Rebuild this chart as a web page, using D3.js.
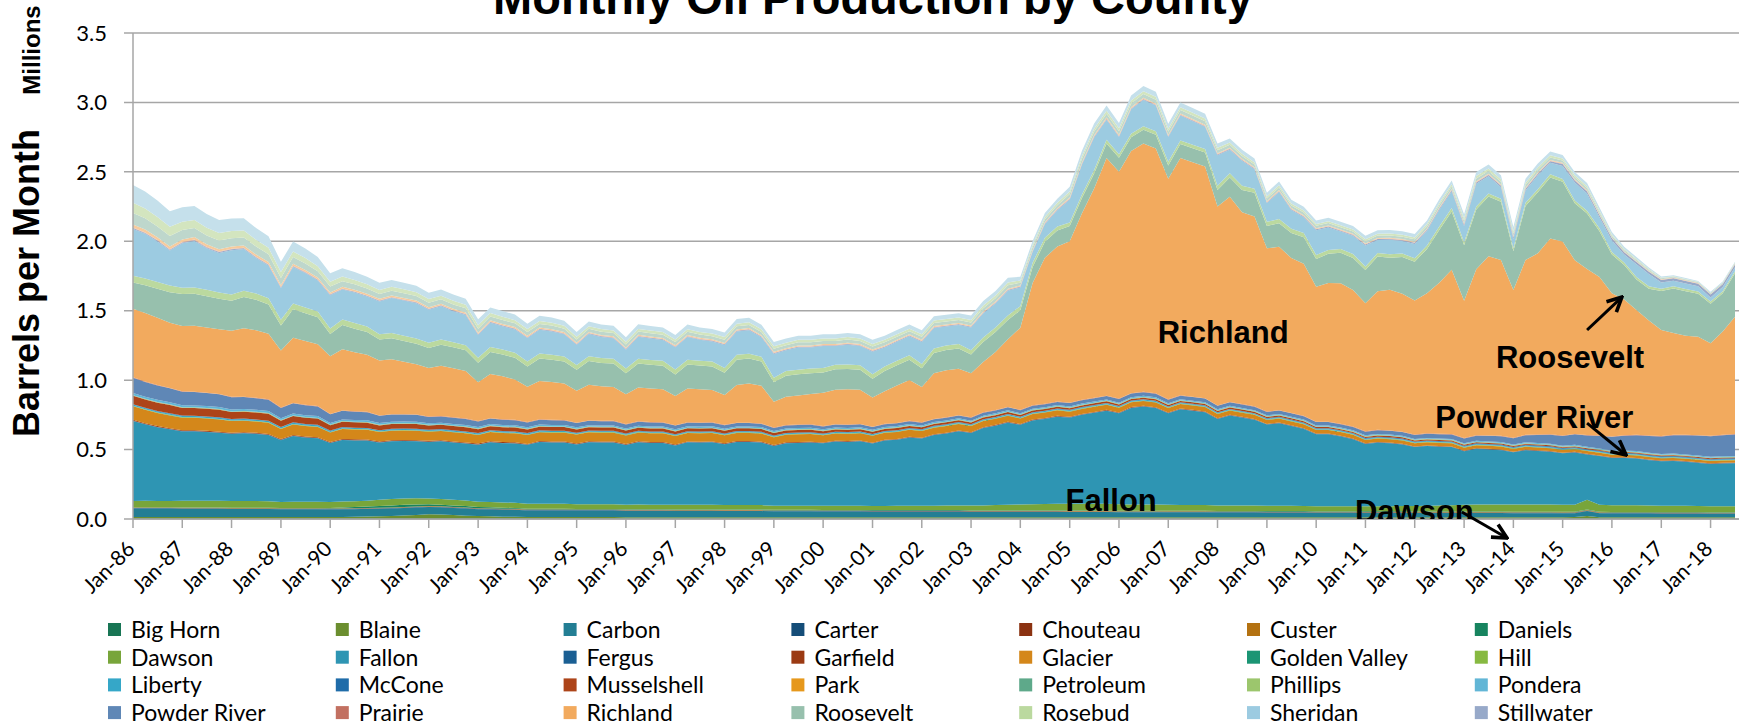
<!DOCTYPE html>
<html>
<head>
<meta charset="utf-8">
<script src="https://cdn.jsdelivr.net/npm/d3@7"></script>
<style>
  body { margin: 0; background: #fff; }
  svg { display: block; }
</style>
</head>
<body>
<svg id="chart" width="1739" height="727"></svg>
<script>
// quarterly points, Jan-86 .. Jul-18 (thousand barrels per month)
const quarters = d3.timeMonth.every(3).range(new Date(1986, 0, 1), new Date(2018, 7, 1));

const bigHorn = [
  4,4,4,4,4,4,4,4,4,4,4,4,4,4,4,4,
  4,4,4,4,4,4,4,4,4,4,4,4,4,4,4,4,
  4,4,4,4,4,4,4,4,3,3,3,3,3,3,3,3,
  3,3,3,3,3,3,3,3,3,3,3,3,3,3,3,3,
  3,3,3,3,3,3,3,3,3,3,3,3,3,3,3,3,
  3,3,3,3,3,3,3,3,3,3,3,3,3,3,3,3,
  3,3,3,3,3,3,3,3,3,3,3,3,3,3,3,3,
  3,3,3,3,3,3,3,3,3,3,3,3,3,3,3,3,
  3,3,3];
const blaine = [
  10,10,10,10,10,10,10,10,10,10,10,10,10,10,10,10,
  10,11,12,14,16,18,21,25,30,28,24,20,17,15,13,12,
  10,10,10,10,10,10,10,10,10,10,10,10,10,10,10,10,
  10,10,10,10,10,10,10,10,10,10,10,10,10,10,10,10,
  10,10,10,10,10,10,10,10,10,10,10,10,10,10,10,10,
  10,10,10,10,10,10,10,10,10,10,10,10,10,10,10,10,
  10,10,10,10,10,10,10,10,10,10,10,10,10,10,10,10,
  10,10,10,10,10,11,18,10,10,10,10,10,10,10,10,10,
  10,10,10];
const carbon = [
  62,62,62,62,60,60,60,60,58,58,58,58,56,56,56,56,
  55,55,55,55,54,54,54,54,52,52,52,52,50,50,50,50,
  48,48,48,48,47,47,47,47,46,46,46,46,45,45,45,45,
  44,44,44,44,42,42,42,42,41,41,41,41,40,40,40,40,
  40,40,40,40,38,38,38,38,38,38,38,38,37,37,37,37,
  36,36,36,36,35,35,35,35,34,34,34,34,33,33,33,33,
  32,32,32,32,31,31,31,31,30,30,30,30,30,30,30,30,
  29,29,29,29,28,28,36,28,27,27,27,27,26,26,26,26,
  25,25,25];
const carter = [
  3,3,3,3,3,3,3,3,3,3,3,3,3,3,3,3,
  3,3,3,3,3,3,3,3,3,3,3,3,3,3,3,3,
  3,3,3,3,3,3,3,3,3,3,3,3,3,3,3,3,
  3,3,3,3,3,3,3,3,3,3,3,3,3,3,3,3,
  3,3,3,3,3,3,3,3,3,3,3,3,3,3,3,3,
  3,3,3,3,3,3,3,3,3,3,3,3,3,3,3,3,
  3,3,3,3,3,3,3,3,3,3,3,3,3,3,3,3,
  3,3,3,3,3,3,3,3,3,3,3,3,3,3,3,3,
  3,3,3];
const chouteau = [
  1,1,1,1,1,1,1,1,1,1,1,1,1,1,1,1,
  1,1,1,1,1,1,1,1,1,1,1,1,1,1,1,1,
  1,1,1,1,1,1,1,1,1,1,1,1,1,1,1,1,
  1,1,1,1,1,1,1,1,1,1,1,1,1,1,1,1,
  1,1,1,1,1,1,1,1,1,1,1,1,1,1,1,1,
  1,1,1,1,1,1,1,1,1,1,1,1,1,1,1,1,
  1,1,1,1,1,1,1,1,1,1,1,1,1,1,1,1,
  1,1,1,1,1,1,1,1,1,1,1,1,1,1,1,1,
  1,1,1];
const custer = [
  3,3,3,3,3,3,3,3,3,3,3,3,3,3,3,3,
  3,3,3,3,3,3,3,3,3,3,3,3,3,3,3,3,
  3,3,3,3,3,3,3,3,3,3,3,3,3,3,3,3,
  3,3,3,3,3,3,3,3,3,3,3,3,3,3,3,3,
  3,3,3,3,3,3,3,3,3,3,3,3,3,3,3,3,
  3,3,3,3,3,3,3,3,3,3,3,3,3,3,3,3,
  3,3,3,3,3,3,3,3,3,3,3,3,3,3,3,3,
  3,3,3,3,3,3,3,3,3,3,3,3,3,3,3,3,
  3,3,3];
const daniels = [
  2,2,2,2,2,2,2,2,2,2,2,2,2,2,2,2,
  4,6,8,10,13,15,16,15,14,12,11,10,9,8,7,6,
  4,4,4,4,4,4,4,4,4,4,4,4,4,4,4,4,
  4,4,4,4,4,4,4,4,4,4,4,4,4,4,4,4,
  4,4,4,4,4,4,4,4,4,4,4,4,4,4,4,4,
  4,4,4,4,4,4,4,4,4,4,4,4,4,4,4,4,
  4,4,4,4,4,4,4,4,4,4,4,4,4,4,4,4,
  4,4,4,4,4,4,4,4,4,4,4,4,4,4,4,4,
  4,4,4];
const dawson = [
  45,46,45,45,48,48,49,48,48,49,48,47,44,46,45,45,
  42,43,42,42,45,46,45,44,40,41,40,40,38,39,38,38,
  36,37,36,36,35,35,35,35,33,34,33,33,33,33,33,33,
  32,32,32,32,30,30,30,30,30,30,30,30,30,30,31,31,
  32,32,33,34,35,36,38,40,43,45,46,47,48,48,48,48,
  46,45,45,44,43,42,42,41,40,40,40,39,38,38,38,37,
  36,36,36,36,36,36,37,38,40,42,43,45,48,50,51,51,
  52,52,52,52,50,50,70,50,48,48,48,47,46,45,45,44,
  43,42,42];
const fallon = [
  576,551,531,516,500,500,495,490,484,487,484,477,445,472,462,457,
  425,443,438,433,411,416,414,411,408,416,413,410,410,429,427,427,
  425,444,442,442,430,446,444,444,430,449,445,445,428,450,448,450,
  438,455,455,450,430,449,452,454,450,463,460,465,450,471,476,491,
  484,509,519,534,522,557,572,592,573,603,613,628,621,641,656,671,
  655,695,705,695,659,689,679,669,622,647,632,617,585,595,575,555,
  518,518,503,483,449,459,454,444,424,429,424,419,386,401,396,391,
  375,390,385,380,371,376,327,351,341,341,336,326,320,323,317,310,
  304,309,311];
const fergus = [
  2,2,2,2,2,2,2,2,2,2,2,2,2,2,2,2,
  2,2,2,2,2,2,2,2,2,2,2,2,2,2,2,2,
  2,2,2,2,2,2,2,2,2,2,2,2,2,2,2,2,
  2,2,2,2,2,2,2,2,2,2,2,2,2,2,2,2,
  2,2,2,2,2,2,2,2,2,2,2,2,2,2,2,2,
  2,2,2,2,2,2,2,2,2,2,2,2,2,2,2,2,
  2,2,2,2,2,2,2,2,2,2,2,2,2,2,2,2,
  2,2,2,2,2,2,2,2,2,2,2,2,2,2,2,2,
  2,2,2];
const garfield = [
  6,6,6,6,6,6,6,6,6,6,6,6,6,6,6,6,
  6,6,6,6,6,6,6,6,6,6,6,6,6,6,6,6,
  5,5,5,5,5,5,5,5,5,5,5,5,5,5,5,5,
  5,5,5,5,5,5,5,5,4,4,4,4,4,4,4,4,
  4,4,4,4,4,4,4,4,4,4,4,4,4,4,4,4,
  4,4,4,4,4,4,4,4,4,4,4,4,3,3,3,3,
  3,3,3,3,3,3,3,3,3,3,3,3,3,3,3,3,
  3,3,3,3,3,3,3,3,3,3,3,3,3,3,3,3,
  3,3,3];
const glacier = [
  98,96,94,92,91,90,89,88,84,83,81,80,72,76,75,74,
  68,71,70,69,68,68,68,68,66,66,66,66,62,66,65,65,
  64,64,64,64,64,64,64,64,62,62,62,62,60,60,60,60,
  58,58,58,58,55,55,55,55,52,52,52,52,50,50,50,50,
  47,47,47,47,44,44,44,44,40,40,40,40,37,37,37,37,
  34,34,34,34,32,32,32,32,30,30,30,30,28,28,28,28,
  26,26,26,26,24,24,24,24,22,22,22,22,21,21,21,21,
  20,20,20,20,19,19,19,19,18,18,18,18,17,17,17,17,
  16,16,16];
const goldenValley = [
  1,1,1,1,1,1,1,1,1,1,1,1,1,1,1,1,
  1,1,1,1,1,1,1,1,1,1,1,1,1,1,1,1,
  1,1,1,1,1,1,1,1,1,1,1,1,1,1,1,1,
  1,1,1,1,1,1,1,1,1,1,1,1,1,1,1,1,
  1,1,1,1,1,1,1,1,1,1,1,1,1,1,1,1,
  1,1,1,1,1,1,1,1,1,1,1,1,1,1,1,1,
  1,1,1,1,1,1,1,1,1,1,1,1,1,1,1,1,
  1,1,1,1,1,1,1,1,1,1,1,1,1,1,1,1,
  1,1,1];
const hill = [
  3,3,3,3,3,3,3,3,3,3,3,3,3,3,3,3,
  3,3,3,3,3,3,3,3,3,3,3,3,3,3,3,3,
  3,3,3,3,3,3,3,3,3,3,3,3,3,3,3,3,
  3,3,3,3,3,3,3,3,3,3,3,3,3,3,3,3,
  3,3,3,3,3,3,3,3,3,3,3,3,3,3,3,3,
  3,3,3,3,3,3,3,3,3,3,3,3,3,3,3,3,
  3,3,3,3,3,3,3,3,3,3,3,3,3,3,3,3,
  3,3,3,3,3,3,3,3,3,3,3,3,3,3,3,3,
  3,3,3];
const liberty = [
  8,8,8,8,8,8,8,8,8,8,8,8,8,8,8,8,
  7,7,7,7,7,7,7,7,7,7,7,7,7,7,7,7,
  7,7,7,7,6,6,6,6,6,6,6,6,6,6,6,6,
  6,6,6,6,6,6,6,6,6,6,6,6,6,6,6,6,
  6,6,6,6,6,6,6,6,6,6,6,6,6,6,6,6,
  6,6,6,6,5,5,5,5,5,5,5,5,5,5,5,5,
  5,5,5,5,5,5,5,5,5,5,5,5,5,5,5,5,
  5,5,5,5,5,5,5,5,5,5,5,5,5,5,5,5,
  5,5,5];
const mcCone = [
  3,3,3,3,3,3,3,3,3,3,3,3,3,3,3,3,
  3,3,3,3,3,3,3,3,3,3,3,3,3,3,3,3,
  3,3,3,3,3,3,3,3,3,3,3,3,3,3,3,3,
  3,3,3,3,3,3,3,3,3,3,3,3,3,3,3,3,
  3,3,3,3,3,3,3,3,3,3,3,3,3,3,3,3,
  3,3,3,3,3,3,3,3,3,3,3,3,4,4,4,4,
  4,4,4,4,5,5,5,5,5,5,5,5,5,5,5,5,
  5,5,5,5,5,5,5,5,5,5,5,5,5,5,5,5,
  5,5,5];
const musselshell = [
  60,60,60,60,55,55,55,55,50,50,50,50,45,45,45,45,
  38,38,38,38,34,34,34,34,30,30,30,30,28,28,28,28,
  26,26,26,26,24,24,24,24,22,22,22,22,21,21,21,21,
  20,20,20,20,18,18,18,18,16,16,16,16,15,15,15,15,
  14,14,14,14,13,13,13,13,12,12,12,12,12,12,12,12,
  11,11,11,11,10,10,10,10,10,10,10,10,9,9,9,9,
  8,8,8,8,8,8,8,8,7,7,7,7,7,7,7,7,
  7,7,7,7,6,6,6,6,6,6,6,6,6,6,6,6,
  6,6,6];
const park = [
  1,1,1,1,1,1,1,1,1,1,1,1,1,1,1,1,
  1,1,1,1,1,1,1,1,1,1,1,1,1,1,1,1,
  1,1,1,1,1,1,1,1,1,1,1,1,1,1,1,1,
  1,1,1,1,1,1,1,1,1,1,1,1,1,1,1,1,
  1,1,1,1,1,1,1,1,1,1,1,1,1,1,1,1,
  1,1,1,1,1,1,1,1,1,1,1,1,1,1,1,1,
  1,1,1,1,1,1,1,1,1,1,1,1,1,1,1,1,
  1,1,1,1,1,1,1,1,1,1,1,1,1,1,1,1,
  1,1,1];
const petroleum = [
  2,2,2,2,2,2,2,2,2,2,2,2,2,2,2,2,
  2,2,2,2,2,2,2,2,2,2,2,2,2,2,2,2,
  2,2,2,2,2,2,2,2,2,2,2,2,2,2,2,2,
  2,2,2,2,2,2,2,2,2,2,2,2,2,2,2,2,
  2,2,2,2,2,2,2,2,2,2,2,2,2,2,2,2,
  2,2,2,2,2,2,2,2,2,2,2,2,2,2,2,2,
  2,2,2,2,2,2,2,2,2,2,2,2,2,2,2,2,
  2,2,2,2,2,2,2,2,2,2,2,2,2,2,2,2,
  2,2,2];
const phillips = [
  2,2,2,2,2,2,2,2,2,2,2,2,2,2,2,2,
  2,2,2,2,2,2,2,2,2,2,2,2,2,2,2,2,
  2,2,2,2,2,2,2,2,2,2,2,2,2,2,2,2,
  2,2,2,2,2,2,2,2,2,2,2,2,2,2,2,2,
  2,2,2,2,2,2,2,2,2,2,2,2,2,2,2,2,
  2,2,2,2,2,2,2,2,2,2,2,2,2,2,2,2,
  2,2,2,2,2,2,2,2,2,2,2,2,2,2,2,2,
  2,2,2,2,2,2,2,2,2,2,2,2,2,2,2,2,
  2,2,2];
const pondera = [
  15,15,15,15,14,14,14,14,14,14,14,14,13,13,13,13,
  12,12,12,12,12,12,12,12,11,11,11,11,11,11,11,11,
  10,10,10,10,10,10,10,10,10,10,10,10,10,10,10,10,
  9,9,9,9,9,9,9,9,9,9,9,9,9,9,9,9,
  8,8,8,8,8,8,8,8,8,8,8,8,8,8,8,8,
  8,8,8,8,7,7,7,7,7,7,7,7,7,7,7,7,
  7,7,7,7,7,7,7,7,6,6,6,6,6,6,6,6,
  6,6,6,6,6,6,6,6,6,6,6,6,6,6,6,6,
  6,6,6];
const powderRiver = [
  110,106,104,100,98,96,94,92,88,86,84,82,74,74,72,70,
  62,62,60,58,52,51,50,49,46,45,44,43,39,39,38,37,
  35,35,34,33,31,31,30,30,29,29,28,27,27,26,26,25,
  25,24,24,23,23,22,22,22,21,21,21,21,20,20,20,20,
  20,20,20,20,21,21,21,21,22,22,22,22,24,24,24,24,
  26,26,26,26,26,26,26,26,25,25,25,25,24,24,24,24,
  24,24,24,24,26,26,26,26,28,30,31,32,34,37,40,42,
  45,52,58,65,70,76,82,90,98,106,114,120,126,132,138,144,
  148,152,155];
const prairie = [
  3,3,3,3,3,3,3,3,3,3,3,3,3,3,3,3,
  3,3,3,3,3,3,3,3,3,3,3,3,3,3,3,3,
  3,3,3,3,3,3,3,3,3,3,3,3,3,3,3,3,
  3,3,3,3,3,3,3,3,3,3,3,3,3,3,3,3,
  3,3,3,3,3,3,3,3,3,3,3,3,3,3,3,3,
  3,3,3,3,3,3,3,3,3,3,3,3,3,3,3,3,
  3,3,3,3,3,3,3,3,3,3,3,3,3,3,3,3,
  3,3,3,3,3,3,3,3,3,3,3,3,3,3,3,3,
  3,3,3];
const richland = [
  494,494,484,469,470,475,470,465,476,493,486,473,410,469,459,444,
  415,440,425,410,396,396,378,361,349,361,354,342,280,318,310,290,
  255,275,272,262,230,257,249,244,215,243,242,237,210,243,240,233,
  215,271,281,271,185,203,210,218,240,247,255,245,210,234,269,294,
  254,329,339,334,317,362,417,487,591,881,1051,1116,1162,1342,1507,1712,
  1634,1744,1789,1764,1589,1709,1689,1669,1432,1477,1382,1367,1176,1176,1116,1096,
  972,999,1011,984,921,998,1013,993,965,1008,1088,1183,988,1196,1290,1266,
  1065,1258,1305,1410,1397,1251,1195,1142,1030,977,899,828,764,734,714,708,
  667,743,845];
const roosevelt = [
  190,200,210,220,230,230,225,220,215,225,220,210,180,205,200,195,
  160,175,170,165,150,150,148,148,145,152,150,150,140,158,156,156,
  145,162,160,160,150,170,168,168,150,172,170,170,155,172,170,170,
  160,182,180,175,140,152,152,150,145,148,146,145,135,146,146,146,
  135,146,146,146,135,145,145,140,125,115,115,115,110,110,108,105,
  100,100,98,98,95,100,100,100,120,140,160,170,160,170,180,190,
  200,210,220,230,240,250,230,265,280,320,380,420,400,430,430,420,
  280,390,440,440,430,410,400,330,280,250,220,230,280,320,320,310,
  285,275,313];
const rosebud = [
  48,48,48,48,46,46,46,46,45,45,45,45,42,42,42,42,
  40,40,40,40,38,38,38,38,37,37,37,37,36,36,36,36,
  36,36,36,36,35,35,35,35,35,35,35,35,35,35,35,35,
  35,35,35,35,33,33,33,33,32,32,32,32,32,32,32,32,
  32,32,32,32,32,32,32,32,30,30,30,30,26,26,26,26,
  25,25,25,25,26,26,26,26,30,30,30,30,30,30,30,30,
  28,28,28,28,25,25,25,25,24,24,24,24,22,22,22,22,
  22,22,22,22,20,20,20,20,18,18,18,18,16,16,16,16,
  15,15,15];
const sheridan = [
  337,322,292,252,319,334,299,284,320,300,255,235,228,263,248,223,
  240,215,220,215,237,252,254,254,238,241,223,218,164,176,168,168,
  169,172,169,159,145,160,152,147,135,158,155,150,160,163,150,145,
  165,168,170,140,172,150,160,152,158,135,142,138,163,137,137,137,
  158,147,137,137,163,173,173,178,135,77,97,117,164,214,234,144,
  125,175,190,185,179,179,169,159,220,170,180,140,135,195,135,115,
  179,162,125,132,152,95,105,90,104,106,121,121,116,163,124,83,
  63,88,100,83,95,130,125,80,82,57,92,87,45,40,40,38,
  30,30,28];
const stillwater = [
  6,6,6,6,6,6,6,6,6,6,6,6,5,5,5,5,
  5,5,5,5,5,5,5,5,5,5,5,5,5,5,5,5,
  5,5,5,5,5,5,5,5,5,5,5,5,5,5,5,5,
  5,5,5,5,5,5,5,5,5,5,5,5,5,5,5,5,
  5,5,5,5,5,5,5,5,5,5,5,5,5,5,5,5,
  5,5,5,5,5,5,5,5,5,5,5,5,5,5,5,5,
  6,6,6,6,6,6,6,6,8,8,8,8,10,10,10,10,
  12,12,12,12,14,14,14,14,16,16,16,16,18,18,18,18,
  20,20,20];
const teton = [
  4,4,4,4,4,4,4,4,4,4,4,4,4,4,4,4,
  3,3,3,3,3,3,3,3,3,3,3,3,3,3,3,3,
  3,3,3,3,3,3,3,3,3,3,3,3,3,3,3,3,
  3,3,3,3,3,3,3,3,3,3,3,3,3,3,3,3,
  3,3,3,3,3,3,3,3,3,3,3,3,3,3,3,3,
  3,3,3,3,3,3,3,3,3,3,3,3,3,3,3,3,
  3,3,3,3,3,3,3,3,3,3,3,3,3,3,3,3,
  3,3,3,3,3,3,3,3,2,2,2,2,2,2,2,2,
  2,2,2];
const toole = [
  21,20,20,19,18,18,18,17,16,16,16,15,14,14,14,13,
  12,12,12,12,11,11,11,11,10,10,10,10,9,9,9,9,
  8,8,8,8,7,7,7,7,7,7,7,7,7,7,7,7,
  7,7,7,7,7,7,7,7,7,7,7,7,7,7,7,7,
  7,7,7,7,7,7,7,7,6,6,6,6,8,8,8,8,
  8,8,8,8,7,7,7,7,6,6,6,6,6,6,6,6,
  5,5,5,5,5,5,5,5,5,5,5,5,6,6,6,6,
  6,6,6,6,5,5,5,5,4,4,4,4,3,3,3,3,
  3,3,3];
const valley = [
  84,81,78,76,68,66,64,62,60,58,57,56,50,48,46,44,
  42,41,39,38,35,34,34,33,32,31,31,30,29,28,28,27,
  27,26,26,25,24,23,23,23,23,23,23,23,23,23,23,23,
  23,23,23,23,22,22,22,22,22,22,22,22,22,22,22,22,
  22,22,22,22,22,23,23,24,20,21,21,22,24,26,26,27,
  26,26,26,26,25,25,25,25,22,21,21,20,19,19,19,19,
  17,17,17,17,17,17,17,17,17,18,18,19,20,20,20,20,
  20,19,19,18,17,16,16,15,12,10,9,8,7,6,6,6,
  6,6,6];
const wibaux = [
  74,71,68,66,60,58,56,54,52,50,49,48,43,41,39,37,
  35,34,32,31,29,28,28,27,27,26,26,25,25,24,24,23,
  22,21,21,20,19,19,19,19,19,19,19,19,19,19,19,19,
  19,19,19,19,18,18,18,18,18,18,18,18,18,18,18,18,
  18,18,18,18,18,19,19,20,16,17,17,18,19,21,21,22,
  21,21,21,21,20,20,20,20,17,16,16,15,15,15,15,15,
  14,14,14,14,14,14,14,14,14,15,15,16,17,17,17,17,
  17,16,16,15,14,13,13,12,10,8,7,6,5,4,4,3,
  3,3,3];
const yellowstone = [
  128,122,118,112,105,101,98,95,90,87,85,82,74,71,69,66,
  60,58,56,54,51,49,48,47,46,45,45,44,42,41,41,40,
  38,37,37,36,34,33,33,33,33,33,33,33,33,33,33,33,
  33,33,33,33,31,30,30,30,30,30,30,30,30,30,30,30,
  30,30,30,30,31,33,33,34,27,28,28,29,34,37,37,38,
  37,37,37,37,35,35,35,35,31,29,29,28,27,27,27,27,
  25,25,25,25,25,25,25,25,25,26,26,27,29,29,29,29,
  30,29,29,28,26,24,24,22,18,15,14,12,9,7,7,6,
  6,6,6];

// series in stacking order (first = bottom); the legend shows the first 28
const countyNames = ["Big Horn", "Blaine", "Carbon", "Carter", "Chouteau", "Custer", "Daniels",
  "Dawson", "Fallon", "Fergus", "Garfield", "Glacier", "Golden Valley", "Hill",
  "Liberty", "McCone", "Musselshell", "Park", "Petroleum", "Phillips", "Pondera",
  "Powder River", "Prairie", "Richland", "Roosevelt", "Rosebud", "Sheridan", "Stillwater",
  "Teton", "Toole", "Valley", "Wibaux", "Yellowstone"];
const countyValues = [bigHorn, blaine, carbon, carter, chouteau, custer, daniels,
  dawson, fallon, fergus, garfield, glacier, goldenValley, hill,
  liberty, mcCone, musselshell, park, petroleum, phillips, pondera,
  powderRiver, prairie, richland, roosevelt, rosebud, sheridan, stillwater,
  teton, toole, valley, wibaux, yellowstone];
const countyColors = ["#187554", "#6b8e2f", "#237e94", "#154d78", "#8b3211", "#b47211", "#17845f",
  "#78a53a", "#2e95b3", "#1a5f93", "#9b3a13", "#d4871a", "#1b9574", "#87b941",
  "#35a7c8", "#1f6ca9", "#ad4419", "#e6981c", "#5ea98a", "#9cc66d", "#62b6d6",
  "#5f87b6", "#c27061", "#f2aa5e", "#97c0ad", "#bbd99f", "#9ccbe1", "#97a9c9",
  "#dcaea5", "#f6cb9d", "#bed7cc", "#d3e5bf", "#c5e0eb"];
const legendCount = 28;

const yTicks = [0, 500, 1000, 1500, 2000, 2500, 3000, 3500];
const yTickLabels = ["0.0", "0.5", "1.0", "1.5", "2.0", "2.5", "3.0", "3.5"];

const notes = [
  { text: "Richland", date: new Date(2006, 9, 15), value: 1267 },
  { text: "Roosevelt", date: new Date(2013, 7, 25), value: 1087 },
  { text: "Powder River", date: new Date(2012, 5, 1), value: 655 },
  { text: "Fallon", date: new Date(2004, 11, 1), value: 58 },
  { text: "Dawson", date: new Date(2010, 9, 15), value: -22 }
];
const arrows = [
  { from: [new Date(2015, 6, 1), 1361], to: [new Date(2016, 2, 15), 1598] },
  { from: [new Date(2015, 6, 1), 691], to: [new Date(2016, 3, 15), 461] },
  { from: [new Date(2012, 11, 15), 50], to: [new Date(2013, 10, 15), -137] }
];

// ---- chart ----
const W = 1739, H = 727;
const plot = { left: 133, right: 1735, top: 33, bottom: 519 };
const tickFont = "Lato, 'Liberation Sans', sans-serif";
const boldFont = "'Liberation Sans', Arial, sans-serif";

const table = quarters.map((d, i) => {
  const row = { date: d };
  countyNames.forEach((n, k) => { row[n] = countyValues[k][i] ?? 0; });
  return row;
});
const series = d3.stack().keys(countyNames)(table);

const x = d3.scaleTime()
  .domain([quarters[0], quarters[quarters.length - 1]])
  .range([plot.left, plot.right]);
const y = d3.scaleLinear().domain([0, 3500]).range([plot.bottom, plot.top]);

const svg = d3.select("#chart");
svg.append("defs").append("clipPath").attr("id", "plotClip")
  .append("rect").attr("x", plot.left).attr("y", plot.top)
  .attr("width", W - plot.left).attr("height", plot.bottom - plot.top);
svg.select("defs").append("marker")
  .attr("id", "arrowHead").attr("viewBox", "0 0 10 10")
  .attr("refX", 9).attr("refY", 5).attr("markerWidth", 6).attr("markerHeight", 6)
  .attr("orient", "auto")
  .append("path").attr("d", "M1,1 L9,5 L1,9").attr("fill", "none")
  .attr("stroke", "#000").attr("stroke-width", 2);

// title
svg.append("text").attr("x", 873).attr("y", 14).attr("text-anchor", "middle")
  .attr("font-family", boldFont).attr("font-weight", "bold").attr("font-size", 47)
  .text("Monthly Oil Production by County");

// gridlines
svg.append("g").selectAll("line").data(yTicks).join("line")
  .attr("x1", plot.left - 9).attr("x2", W)
  .attr("y1", d => y(d)).attr("y2", d => y(d))
  .attr("stroke", "#a6a6a6").attr("stroke-width", 1.5);

// stacked areas
const area = d3.area()
  .x(d => x(d.data.date))
  .y0(d => y(d[0]))
  .y1(d => y(d[1]));
svg.append("g").selectAll("path").data(series).join("path")
  .attr("fill", (d, i) => countyColors[i])
  .attr("d", area);

// y axis
svg.append("line").attr("x1", plot.left).attr("x2", plot.left)
  .attr("y1", plot.top).attr("y2", plot.bottom)
  .attr("stroke", "#a6a6a6").attr("stroke-width", 1.5);
svg.append("g").selectAll("text").data(yTicks).join("text")
  .attr("x", 107).attr("y", d => y(d)).attr("dy", "0.35em")
  .attr("text-anchor", "end").attr("font-family", tickFont).attr("font-size", 22)
  .text((d, i) => yTickLabels[i]);

// x axis
const years = d3.timeYear.range(new Date(1986, 0, 1), new Date(2018, 1, 1));
svg.append("line").attr("x1", plot.left).attr("x2", W)
  .attr("y1", plot.bottom).attr("y2", plot.bottom)
  .attr("stroke", "#a6a6a6").attr("stroke-width", 1.5);
svg.append("g").selectAll("line").data(years).join("line")
  .attr("x1", d => x(d)).attr("x2", d => x(d))
  .attr("y1", plot.bottom).attr("y2", plot.bottom + 9)
  .attr("stroke", "#a6a6a6").attr("stroke-width", 1.5);
const fmt = d3.timeFormat("%b-%y");
svg.append("g").selectAll("text").data(years).join("text")
  .attr("transform", d => `translate(${x(d) - 2},${plot.bottom + 26}) rotate(-45)`)
  .attr("dy", "0.35em").attr("text-anchor", "end")
  .attr("font-family", tickFont).attr("font-size", 21)
  .text(d => fmt(d));

// axis titles
svg.append("text").attr("transform", "translate(39,283) rotate(-90)")
  .attr("text-anchor", "middle").attr("font-family", boldFont)
  .attr("font-weight", "bold").attr("font-size", 36)
  .text("Barrels per Month");
svg.append("text").attr("transform", "translate(40,50) rotate(-90)")
  .attr("text-anchor", "middle").attr("font-family", boldFont)
  .attr("font-weight", "bold").attr("font-size", 24)
  .text("Millions");

// annotations
const noteG = svg.append("g").attr("clip-path", "url(#plotClip)");
noteG.selectAll("text").data(notes).join("text")
  .attr("x", d => x(d.date)).attr("y", d => y(d.value))
  .attr("font-family", boldFont).attr("font-weight", "bold").attr("font-size", 31)
  .text(d => d.text);
svg.append("g").selectAll("line").data(arrows).join("line")
  .attr("x1", d => x(d.from[0])).attr("y1", d => y(d.from[1]))
  .attr("x2", d => x(d.to[0])).attr("y2", d => y(d.to[1]))
  .attr("stroke", "#000").attr("stroke-width", 3)
  .attr("marker-end", "url(#arrowHead)");

// legend
const legend = svg.append("g").selectAll("g")
  .data(countyNames.slice(0, legendCount)).join("g")
  .attr("transform", (d, i) => `translate(${108 + (i % 7) * 227.8},${630 + Math.floor(i / 7) * 27.7})`);
legend.append("rect").attr("x", 0).attr("y", -7).attr("width", 13).attr("height", 13)
  .attr("fill", (d, i) => countyColors[i]);
legend.append("text").attr("x", 23).attr("y", 0).attr("dy", "0.35em")
  .attr("font-family", tickFont).attr("font-size", 23)
  .text(d => d);
</script>
</body>
</html>
